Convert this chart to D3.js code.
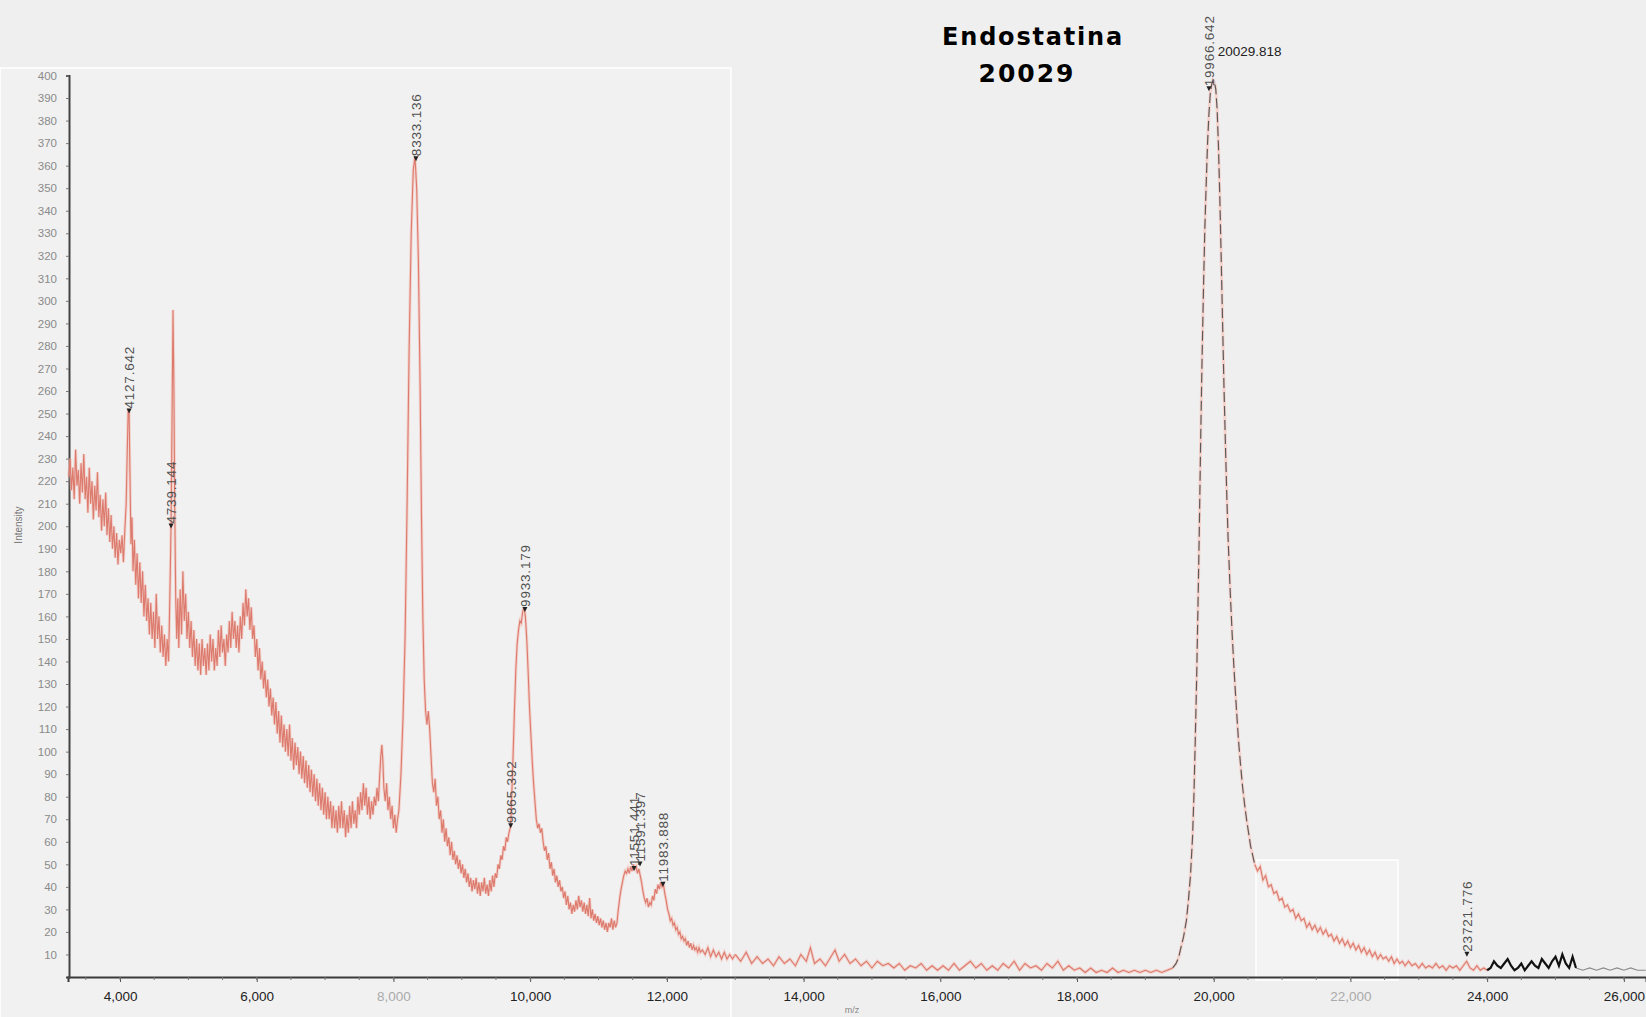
<!DOCTYPE html>
<html>
<head>
<meta charset="utf-8">
<script src="https://cdn.jsdelivr.net/npm/d3@7"></script>
<style>
body { margin: 0; background: #efefef; }
svg { display: block; }
text { font-family: "Liberation Sans", Arial, sans-serif; }
</style>
</head>
<body>
<div id="chart"></div>
<script>
// spectrum segments, [m/z, intensity]
var leftSeg = [
  [3250,222],[3270,230],[3290,216],[3310,226],[3330,212],[3350,234],[3370,218],[3390,225],[3410,210],[3430,228],
  [3450,215],[3470,232],[3490,212],[3510,222],[3530,206],[3550,226],[3570,210],[3590,220],[3610,203],[3630,218],
  [3650,207],[3670,224],[3690,204],[3710,214],[3730,198],[3750,212],[3770,200],[3790,215],[3810,196],[3830,208],
  [3850,193],[3870,205],[3890,190],[3910,200],[3930,186],[3950,197],[3970,183],[3990,194],[4010,188],[4030,196],
  [4050,184],[4070,198],[4090,210],[4105,232],[4120,252],[4133,250],[4145,224],[4160,192],[4175,204],[4190,180],
  [4210,194],[4230,174],[4250,188],[4270,168],[4290,184],[4310,166],[4330,180],[4350,160],[4370,174],[4390,158],
  [4410,168],[4430,152],[4450,166],[4470,150],[4490,162],[4510,146],[4530,170],[4550,150],[4570,160],[4590,144],
  [4610,156],[4630,142],[4650,152],[4670,138],[4690,150],[4710,140],[4730,170],[4747,201],[4762,250],[4775,296],
  [4788,262],[4800,210],[4815,168],[4830,150],[4845,168],[4860,146],[4880,172],[4900,152],[4920,180],[4940,158],
  [4960,170],[4980,150],[5000,162],[5020,146],[5040,158],[5060,142],[5080,154],[5100,138],[5120,150],[5140,136],
  [5160,148],[5180,134],[5200,150],[5220,138],[5240,146],[5260,134],[5280,148],[5300,136],[5320,152],[5340,140],
  [5360,150],[5380,136],[5400,146],[5420,138],[5440,154],[5460,142],[5480,156],[5500,144],[5520,150],[5540,138],
  [5560,152],[5580,144],[5600,158],[5620,146],[5640,162],[5660,150],[5680,158],[5700,146],[5720,156],[5740,144],
  [5760,160],[5780,150],[5800,166],[5820,156],[5840,172],[5860,160],[5880,168],[5900,154],[5920,164],[5940,150],
  [5960,156],[5980,142],[6000,150],[6020,136],[6040,146],[6060,132],[6080,140],[6100,128],[6120,136],[6140,124],
  [6160,132],[6180,120],[6200,128],[6220,116],[6240,124],[6260,112],[6280,122],[6300,108],[6320,118],[6340,104],
  [6360,116],[6380,102],[6400,112],[6420,100],[6440,110],[6460,98],[6480,112],[6500,96],[6520,106],[6540,92],
  [6560,104],[6580,94],[6600,102],[6620,90],[6640,100],[6660,88],[6680,98],[6700,86],[6720,96],[6740,84],
  [6760,94],[6780,82],[6800,92],[6820,80],[6840,90],[6860,78],[6880,88],[6900,76],[6920,86],[6940,74],
  [6960,84],[6980,72],[7000,82],[7020,70],[7040,80],[7060,70],[7080,78],[7100,66],[7120,76],[7140,66],
  [7160,74],[7180,64],[7200,76],[7220,66],[7240,78],[7260,66],[7280,74],[7300,62],[7320,72],[7340,64],
  [7360,76],[7380,66],[7400,78],[7420,68],[7440,74],[7460,66],[7480,80],[7500,72],[7520,82],[7540,74],
  [7560,86],[7580,76],[7600,84],[7620,72],[7640,80],[7660,70],[7680,78],[7700,72],[7720,80],[7740,76],
  [7760,84],[7780,78],[7800,90],[7815,98],[7830,103],[7845,96],[7860,84],[7880,78],[7900,86],[7920,74],
  [7940,80],[7960,70],[7980,76],[8000,66],[8020,72],[8040,64],[8060,70],[8080,74],[8110,90],[8140,115],
  [8170,150],[8200,210],[8230,280],[8260,330],[8290,358],[8315,364],[8340,350],[8365,318],[8390,262],[8410,205],
  [8430,160],[8450,132],[8470,118],[8490,112],[8510,118],[8530,110],[8550,98],[8570,86],[8590,82],[8610,88],
  [8630,76],[8650,80],[8670,70],[8690,74],[8710,64],[8730,70],[8750,60],[8770,66],[8790,58],[8810,62],
  [8830,54],[8850,60],[8870,52],[8890,56],[8910,50],[8930,54],[8950,48],[8970,52],[8990,46],[9010,50],
  [9030,44],[9050,48],[9070,42],[9090,46],[9110,40],[9130,44],[9150,38],[9170,43],[9190,39],[9210,44],
  [9230,37],[9250,42],[9270,36],[9290,42],[9310,38],[9330,44],[9350,37],[9370,41],[9390,36],[9410,43],
  [9430,38],[9450,45],[9470,40],[9490,46],[9510,44],[9530,50],[9550,48],[9570,54],[9590,52],[9610,58],
  [9630,56],[9650,62],[9670,60],[9690,64],[9715,67],[9730,80],[9750,98],[9770,118],[9790,136],[9810,148],
  [9830,154],[9850,158],[9870,157],[9890,162],[9910,164],[9930,160],[9950,150],[9970,136],[9990,120],[10010,108],
  [10030,96],[10050,86],[10070,78],[10090,70],[10110,66],[10130,68],[10150,64],[10170,66],[10190,60],[10210,56],
  [10230,58],[10250,52],[10270,55],[10290,48],[10310,51],[10330,45],[10350,48],[10370,42],[10390,45],[10410,40],
  [10430,43],[10450,38],[10470,40],[10490,35],[10510,38],[10530,32],[10550,36],[10570,30],[10590,33],[10610,28],
  [10630,32],[10650,29],[10670,34],[10690,30],[10710,36],[10730,31],[10750,34],[10770,29],[10790,33],[10810,28],
  [10830,32],[10850,27],[10870,35],[10890,26],[10910,30],[10930,25],[10950,28],[10970,24],[10990,27],[11010,23],
  [11030,26],[11050,22],[11070,25],[11090,21],[11110,24],[11130,20],[11150,24],[11170,22],[11190,26],[11210,21],
  [11230,25],[11250,22],[11270,24],[11290,30],[11310,35],[11330,39],[11350,42],[11370,45],[11390,47],[11410,46],
  [11430,48],[11450,46],[11470,49],[11490,47],[11510,50],[11530,48],[11550,49],[11570,46],[11590,48],[11610,45],
  [11630,42],[11650,38],[11670,35],[11690,33],[11710,35],[11730,31],[11750,33],[11770,32],[11790,36],[11810,34],
  [11830,39],[11850,37],[11870,41],[11890,39],[11910,42],[11930,40],[11950,41],[11970,37],[11990,34],[12010,30],
  [12030,28],[12050,25],[12070,26],[12090,23],[12110,24],[12130,21],[12150,22],[12170,19],[12190,20],[12210,17],
  [12230,18],[12250,16],[12270,17],[12290,14],[12310,16],[12330,13],[12350,15],[12370,12],[12390,14],[12410,12],
  [12430,13],[12450,11],[12470,13],[12490,11],[12520,12],[12560,10],[12600,13],[12640,9],[12680,12],[12720,9],
  [12760,11],[12800,8],[12840,11],[12880,8],[12920,10],[12960,8],[13000,10]
];

var tailSeg = [
  [13000,10],[13080,7],[13160,11],[13240,6],[13320,9],[13400,6],[13480,8],[13560,5],[13640,9],[13720,6],
  [13800,8],[13880,5],[13960,10],[14040,7],[14100,13],[14160,6],[14240,8],[14320,5],[14400,9],[14460,12],
  [14520,7],[14600,10],[14680,6],[14760,8],[14840,5],[14920,7],[15000,4],[15080,7],[15160,5],[15240,6],
  [15320,4],[15400,6],[15480,3],[15560,5],[15640,4],[15720,6],[15800,3],[15880,5],[15960,3],[16040,5],
  [16120,3],[16200,6],[16280,3],[16360,5],[16440,7],[16520,4],[16600,6],[16680,3],[16760,5],[16840,3],
  [16920,6],[17000,4],[17080,7],[17160,3],[17240,6],[17320,4],[17400,5],[17480,3],[17560,6],[17640,4],
  [17720,7],[17800,3],[17880,5],[17960,3],[18040,4],[18120,2],[18200,4],[18280,2],[18360,3],[18440,2],
  [18520,4],[18600,2],[18680,3],[18760,2],[18840,3],[18920,2],[19000,3],[19080,2],[19160,3],[19240,2],
  [19320,3],[19400,4]
];

var peakSeg = [
  [19400,4],[19450,6],[19490,9],[19520,13],[19560,18],[19600,25],[19630,34],[19660,45],[19690,62],[19710,80],
  [19730,105],[19750,132],[19770,165],[19790,200],[19810,240],[19830,275],[19850,305],[19870,332],[19890,352],[19910,370],
  [19930,383],[19950,392],[19970,396],[19990,398],[20010,397],[20030,394],[20050,385],[20070,368],[20090,345],[20110,318],
  [20130,290],[20150,262],[20170,238],[20190,215],[20210,195],[20240,172],[20270,152],[20300,135],[20330,120],[20360,106],
  [20390,95],[20420,85],[20450,77],[20480,70],[20510,64],[20540,58],[20570,54],[20600,50]
];

var decaySeg = [
  [20600,50],[20640,47],[20680,49],[20720,43],[20760,45],[20800,40],[20840,41],[20880,37],[20920,38],[20960,34],
  [21000,35],[21040,31],[21080,32],[21120,29],[21160,30],[21200,26],[21240,28],[21280,25],[21320,26],[21360,22],
  [21400,24],[21440,21],[21480,23],[21520,20],[21560,22],[21600,19],[21640,21],[21680,18],[21720,19],[21760,16],
  [21800,18],[21840,15],[21880,17],[21920,14],[21960,16],[22000,13],[22040,15],[22080,12],[22120,14],[22160,11],
  [22200,13],[22240,10],[22280,12],[22320,9],[22360,11],[22400,8],[22440,10],[22480,8],[22520,9],[22560,7],
  [22600,9],[22640,6],[22680,8],[22720,6],[22760,7],[22800,5],[22850,7],[22900,5],[22950,6],[23000,4],
  [23050,6],[23100,4],[23150,5],[23200,4],[23250,6],[23300,4],[23350,5],[23400,3],[23450,5],[23500,4],
  [23550,5],[23600,3],[23650,5],[23700,7],[23750,4],[23800,3],[23850,5],[23900,3],[23950,4],[24000,3]
];

var blackSeg = [
  [24000,3],[24050,4],[24100,7],[24150,5],[24200,4],[24250,6],[24300,8],[24350,5],[24400,3],[24450,4],
  [24500,6],[24550,3],[24600,5],[24650,7],[24700,5],[24750,4],[24800,8],[24850,6],[24900,4],[24950,7],
  [25000,9],[25050,5],[25100,10],[25150,6],[25200,4],[25250,9],[25300,4]
];

var endSeg = [
  [25300,4],[25400,3],[25500,4],[25600,3],[25700,4],[25800,3],[25900,4],[26000,3],[26100,4],[26200,3],[26320,3]
];

// annotated peaks
var labelText = ["4127.642", "4739.144", "8333.136", "9865.392", "9933.179", "11551.441", "11591.397", "11983.888", "19966.642", "23721.776"];
var labelMz = [4133, 4747, 8330, 9715, 9924, 11519, 11607, 11943, 19930, 23704];
var labelInt = [250, 199, 362, 66, 162, 47, 49, 40, 393, 9];

var topPeakText = "20029.818";
var topPeakMz = 20029;

var xTicks = d3.range(4000, 26001, 2000);
var xMinor = d3.range(3500, 26301, 500);
var yTicks = d3.range(10, 401, 10);

var W = 1646, H = 1017;

var x = d3.scaleLinear().domain([3239, 26324]).range([68, 1646]);
var y = d3.scaleLinear().domain([0, 400]).range([977, 75.5]);

var svg = d3.select("#chart").append("svg")
    .attr("width", W)
    .attr("height", H);

svg.append("rect").attr("width", W).attr("height", H).attr("fill", "#efefef");

// pasted panel edges
svg.append("rect")
    .attr("x", 0).attr("y", 68).attr("width", 731).attr("height", 960)
    .attr("fill", "#f1f1f1")
    .attr("stroke", "#ffffff").attr("stroke-width", 1.5);
svg.append("rect")
    .attr("x", 1256).attr("y", 860).attr("width", 142).attr("height", 120)
    .attr("fill", "#f3f3f3")
    .attr("stroke", "#ffffff").attr("stroke-width", 1.5);

// title
svg.append("text")
    .attr("x", 1033).attr("y", 45)
    .attr("text-anchor", "middle")
    .style("font-family", "DejaVu Sans")
    .style("font-weight", "bold")
    .style("font-size", "24px")
    .style("letter-spacing", "1.8px")
    .attr("fill", "#000")
    .text("Endostatina");
svg.append("text")
    .attr("x", 1027).attr("y", 82)
    .attr("text-anchor", "middle")
    .style("font-family", "DejaVu Sans")
    .style("font-weight", "bold")
    .style("font-size", "25px")
    .style("letter-spacing", "2px")
    .attr("fill", "#000")
    .text("20029");

// x axis
var xAxis = svg.append("g")
    .attr("class", "x axis")
    .attr("transform", "translate(0," + y(0) + ")")
    .call(d3.axisBottom(x).tickValues(xTicks).tickSize(5).tickPadding(9).tickFormat(d3.format(",")));
xAxis.select(".domain").attr("stroke", "#3a3a3a").attr("stroke-width", 2);
xAxis.selectAll(".tick line").attr("stroke", "#555");
xAxis.selectAll(".tick text")
    .style("font-size", "13.5px")
    .attr("fill", function(d) { return (d == 8000 || d == 22000) ? "#aaa" : "#222"; });

svg.append("g")
    .selectAll("line")
    .data(xMinor)
    .enter().append("line")
    .attr("x1", function(d) { return x(d); })
    .attr("x2", function(d) { return x(d); })
    .attr("y1", y(0))
    .attr("y2", y(0) + 3)
    .attr("stroke", "#777");

// y axis
var yAxis = svg.append("g")
    .attr("class", "y axis")
    .attr("transform", "translate(69,0)")
    .call(d3.axisLeft(y).tickValues(yTicks).tickSize(3).tickPadding(9));
yAxis.select(".domain").attr("stroke", "#444").attr("stroke-width", 2);
yAxis.selectAll(".tick line").attr("stroke", "#777");
yAxis.selectAll(".tick text")
    .style("font-size", "11.5px")
    .attr("fill", "#8a8a8a");

svg.append("text")
    .attr("transform", "translate(22,525) rotate(-90)")
    .style("text-anchor", "middle")
    .style("font-size", "10px")
    .attr("fill", "#777")
    .text("Intensity");

svg.append("text")
    .attr("x", 852).attr("y", 1013)
    .style("text-anchor", "middle")
    .style("font-size", "9px")
    .attr("fill", "#888")
    .text("m/z");

// spectrum
var line = d3.line()
    .x(function(d) { return x(d[0]); })
    .y(function(d) { return y(d[1]); });

[leftSeg, tailSeg, decaySeg].forEach(function(seg) {
    svg.append("path").datum(seg)
        .attr("d", line)
        .attr("fill", "none")
        .attr("stroke", "#f3bcb3")
        .attr("stroke-width", 3)
        .attr("opacity", 0.6);
    svg.append("path").datum(seg)
        .attr("d", line)
        .attr("fill", "none")
        .attr("stroke", "#dc7a6d")
        .attr("stroke-width", 1.1);
});

svg.append("path").datum(peakSeg)
    .attr("d", line)
    .attr("fill", "none")
    .attr("stroke", "#f6d2cc")
    .attr("stroke-width", 3);
svg.append("path").datum(peakSeg)
    .attr("d", line)
    .attr("fill", "none")
    .attr("stroke", "#5a5a5a")
    .attr("stroke-width", 1.2)
    .attr("stroke-dasharray", "10,4");

svg.append("path").datum(blackSeg)
    .attr("d", line)
    .attr("fill", "none")
    .attr("stroke", "#111")
    .attr("stroke-width", 2.2);

svg.append("path").datum(endSeg)
    .attr("d", line)
    .attr("fill", "none")
    .attr("stroke", "#8a8a8a")
    .attr("stroke-width", 1.2);

// peak labels
var peaks = labelText.map(function(t, i) { return {text: t, mz: labelMz[i], val: labelInt[i]}; });

svg.selectAll("path.marker")
    .data(peaks)
    .enter().append("path")
    .attr("class", "marker")
    .attr("d", "M-2.5,-5L2.5,-5L0,0Z")
    .attr("transform", function(d) { return "translate(" + x(d.mz) + "," + y(d.val) + ")"; })
    .attr("fill", "#222");

svg.selectAll("text.peak")
    .data(peaks)
    .enter().append("text")
    .attr("class", "peak")
    .attr("transform", function(d) {
        return "translate(" + (x(d.mz) + 5) + "," + (y(d.val) - 5) + ") rotate(-90)";
    })
    .style("font-size", "13.5px")
    .style("letter-spacing", "0.8px")
    .attr("fill", "#505050")
    .text(function(d) { return d.text; });

svg.append("text")
    .attr("x", x(topPeakMz) + 2).attr("y", 56)
    .style("font-size", "13.5px")
    .attr("fill", "#222")
    .text(topPeakText);
</script>
</body>
</html>
